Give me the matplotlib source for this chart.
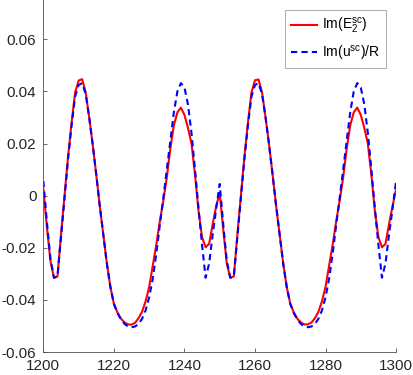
import numpy as np
import matplotlib
matplotlib.use('Agg')
import matplotlib.pyplot as plt

# sample positions along the x axis
x = np.arange(1200, 1301)

# Im(E_2^sc), one value per unit
im_e2 = [
    0.0025, -0.012, -0.025, -0.0315, -0.031, -0.015, 0.000, 0.015, 0.028, 0.0396,
    0.0442, 0.0447, 0.0396, 0.030, 0.0195, 0.008, -0.004, -0.015, -0.026, -0.035,
    -0.0415, -0.0448, -0.0472, -0.0486, -0.0494, -0.0495, -0.0488, -0.0470, -0.0445, -0.0405,
    -0.035, -0.027, -0.019, -0.010, -0.002, 0.007, 0.018, 0.027, 0.032, 0.0338,
    0.031, 0.026, 0.020, 0.008, -0.006, -0.016, -0.0198, -0.0185, -0.011, -0.004,
    0.001, -0.013, -0.026, -0.0315, -0.031, -0.015, 0.000, 0.015, 0.028, 0.0396,
    0.0443, 0.0446, 0.0396, 0.030, 0.0195, 0.008, -0.004, -0.015, -0.026, -0.035,
    -0.0415, -0.0448, -0.0472, -0.0486, -0.0494, -0.0494, -0.0487, -0.0470, -0.0445, -0.0405,
    -0.035, -0.027, -0.019, -0.010, -0.002, 0.007, 0.018, 0.027, 0.032, 0.0338,
    0.031, 0.026, 0.020, 0.008, -0.006, -0.016, -0.0198, -0.0185, -0.011, -0.004,
    0.0024,
]

# Im(u^sc)/R
im_u = [
    0.0056, -0.010, -0.024, -0.0315, -0.031, -0.016, -0.001, 0.014, 0.027, 0.038,
    0.0425, 0.0432, 0.039, 0.030, 0.0195, 0.008, -0.004, -0.015, -0.026, -0.035,
    -0.0415, -0.0450, -0.0475, -0.0492, -0.0502, -0.0505, -0.0502, -0.0492, -0.0472, -0.0440,
    -0.0390, -0.0320, -0.0225, -0.0115, -0.001, 0.010, 0.021, 0.032, 0.040, 0.0432,
    0.0415, 0.035, 0.024, 0.010, -0.005, -0.019, -0.0315, -0.026, -0.015, -0.005,
    0.0045, -0.011, -0.025, -0.0315, -0.031, -0.016, -0.001, 0.014, 0.027, 0.038,
    0.0425, 0.0432, 0.039, 0.030, 0.0195, 0.008, -0.004, -0.015, -0.026, -0.035,
    -0.0415, -0.0450, -0.0475, -0.0492, -0.0502, -0.0505, -0.0502, -0.0492, -0.0472, -0.0440,
    -0.0390, -0.0320, -0.0225, -0.0115, -0.001, 0.010, 0.021, 0.032, 0.040, 0.0432,
    0.0415, 0.035, 0.024, 0.010, -0.005, -0.019, -0.0315, -0.026, -0.015, -0.005,
    0.0056,
]

xticks = [1200, 1220, 1240, 1260, 1280, 1300]
yticks = [-0.06, -0.04, -0.02, 0, 0.02, 0.04, 0.06]
ytick_labels = ['-0.06', '-0.04', '-0.02', '0', '0.02', '0.04', '0.06']

plt.rcParams['font.family'] = ['Liberation Sans', 'DejaVu Sans']
plt.rcParams['mathtext.default'] = 'regular'

fig = plt.figure(figsize=(4.13, 3.75), dpi=100)
ax = fig.add_axes([0.105, 0.0613, 0.854, 0.9387])

ax.plot(x, im_e2, color='r', lw=1.5, label='Im(E$_2^{sc}$)')
ax.plot(x, im_u, color='b', lw=1.5, ls=(0, (3, 2)), label='Im(u$^{sc}$)/R')

ax.set_xlim(1200, 1300)
ax.set_ylim(-0.06, 0.0751)
ax.set_xticks(xticks)
ax.set_yticks(yticks)
ax.set_yticklabels(ytick_labels)

# matlab style: box off, ticks inward
for side in ['top', 'right']:
    ax.spines[side].set_visible(False)
for side in ['left', 'bottom']:
    ax.spines[side].set_color('#505050')
    ax.spines[side].set_linewidth(0.6)
ax.tick_params(direction='in', length=3, width=0.6, color='#505050',
               labelsize=11, labelcolor='#262626', pad=5)

leg = ax.legend(loc='upper right', fontsize=10, handlelength=1.9,
                handletextpad=0.35, borderpad=0.4, labelspacing=0.55,
                fancybox=False, framealpha=1, edgecolor='#a0a0a0',
                borderaxespad=0.75)
leg.get_frame().set_linewidth(0.6)

fig.savefig('out.png', dpi=100)
